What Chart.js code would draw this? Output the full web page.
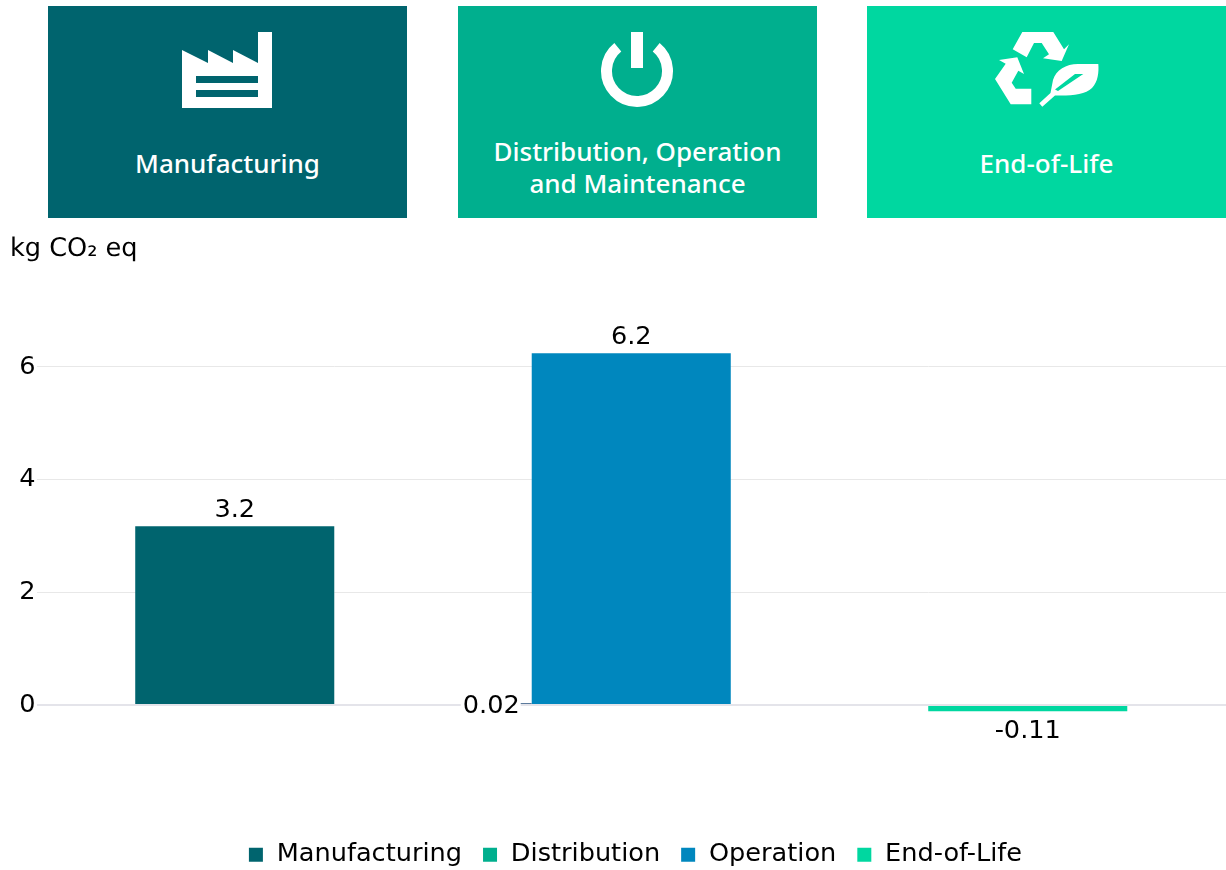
<!DOCTYPE html>
<html>
<head>
<meta charset="utf-8">
<script src="https://cdn.jsdelivr.net/npm/chart.js@4"></script>
<style>
  html, body { margin: 0; padding: 0; background: #fff; overflow: hidden; }
  #page { position: relative; width: 1226px; height: 870px; }
  canvas { position: absolute; left: 0; top: 0; }
  .tile {
    position: absolute; top: 6px; width: 359px; height: 212px; color: #fff;
    font: 500 26px "Noto Sans", sans-serif; line-height: 32px; text-align: center;
  }
  .tile span { position: absolute; left: 0; right: 0; top: 141px; }
  .tile span.two { top: 129px; }
  #icons { position: absolute; left: 0; top: 0; }
  #unit { position: absolute; left: 10px; top: 233px; font: 25.6px "DejaVu Sans", sans-serif; line-height: 30px; color: #000; text-rendering: geometricPrecision; }
</style>
</head>
<body>
<div id="page">
  <canvas id="myChart" width="1226" height="870"></canvas>
  <div class="tile" style="left:48px;background:#00646e"><span>Manufacturing</span></div>
  <div class="tile" style="left:458px;background:#00af8e"><span class="two">Distribution, Operation<br>and Maintenance</span></div>
  <div class="tile" style="left:867px;background:#00d7a0"><span>End-of-Life</span></div>
  <svg id="icons" width="1226" height="220" fill="#fff">
    <!-- fabrica -->
    <path fill-rule="evenodd" d="M182 50L208 63V50L233 63V50L258 63V32H272V108H182ZM196 76V83H258V76ZM196 90V97H258V90Z"/>
    <!-- encendido -->
    <rect x="631" y="32" width="12" height="36"/>
    <path d="M617.8 47.2A30.5 30.5 0 1 0 656.2 47.2" fill="none" stroke="#fff" stroke-width="11"/>
    <!-- reciclaje -->
    <path d="M1022.3 32H1053.3L1064 49.3L1069 44.3L1061.7 61L1043 58.3L1049 54.3L1041.7 43H1034L1026.7 57.3L1012.7 49.3Z"/>
    <path d="M999 60L1017.3 57.3L1024 74L1018.3 70.7L1011.7 82.7L1015.7 88.7H1031.3V104.3H1010.7L995 79L1005.7 63.7Z"/>
    <path fill-rule="evenodd" d="M1098.3 64H1078C1066 64 1056 70 1053 80L1050.5 93L1039.3 103.3L1042.3 106.7L1055 95.5C1070 96 1085 95 1092 88C1098 82 1099 72 1098.3 64ZM1075 74H1083.3L1058 91L1055 89.5Z"/>
  </svg>
  <div id="unit">kg CO₂ eq</div>
</div>
<script>
var categories = ['Manufacturing', 'Distribution, Operation and Maintenance', 'End-of-Life'];
var seriesNames = ['Manufacturing', 'Distribution', 'Operation', 'End-of-Life'];
var manufacturing = [3.17, null, null];
var distribution = [null, 0.02, null];
var operation = [null, 6.22, null];
var endOfLife = [null, null, -0.11];
var valueLabels = ['3.2', '0.02', '6.2', '-0.11'];
var yTicks = [0, 2, 4, 6];
var colors = ['#00646e', '#00af8e', '#0087be', '#00d7a0'];

var fontName = '"DejaVu Sans", sans-serif';

// etiquetas de valor dibujadas desde las barras
var valueLabelPlugin = {
  id: 'valueLabels',
  afterDatasetsDraw: function (chart) {
    var c = chart.ctx;
    var manu = chart.getDatasetMeta(0).data[0];
    var dist = chart.getDatasetMeta(1).data[1];
    var oper = chart.getDatasetMeta(2).data[1];
    var eol = chart.getDatasetMeta(3).data[2];
    c.save();
    c.font = '25.6px ' + fontName;
    c.fillStyle = '#000';
    c.textAlign = 'center';
    c.textBaseline = 'alphabetic';
    c.fillText(valueLabels[0], manu.x, manu.y - 9);
    c.fillText(valueLabels[2], oper.x, oper.y - 9);
    c.fillText(valueLabels[3], eol.x, eol.y + 27);

    // la etiqueta 0.02 va a la izquierda con una linea corta
    var left = dist.x - dist.width / 2;
    var w = c.measureText(valueLabels[1]).width;
    c.fillStyle = '#fff';
    c.fillRect(left - 12 - w - 2, dist.y - 8, w + 3, 16);
    c.strokeStyle = '#5c7a9c';
    c.lineWidth = 1;
    c.beginPath();
    c.moveTo(left - 11, Math.round(dist.y) - 0.5);
    c.lineTo(left, Math.round(dist.y) - 0.5);
    c.stroke();
    c.fillStyle = '#000';
    c.textAlign = 'right';
    c.fillText(valueLabels[1], left - 12, dist.y + 9);
    c.restore();
  }
};

// mover la leyenda a su sitio
var legendPlacePlugin = {
  id: 'legendPlace',
  afterLayout: function (chart) {
    chart.legend.left = 44;
    chart.legend.top = 822;
    chart.legend.bottom = 870;
  }
};

var datasets = [manufacturing, distribution, operation, endOfLife].map(function (values, i) {
  return {
    label: seriesNames[i],
    data: values,
    backgroundColor: colors[i],
    borderWidth: 0,
    barPercentage: 0.502,
    categoryPercentage: 1
  };
});

var ctx = document.getElementById('myChart').getContext('2d');
ctx.textRendering = 'geometricPrecision';
var myChart = new Chart(ctx, {
  type: 'bar',
  data: { labels: categories, datasets: datasets },
  plugins: [valueLabelPlugin, legendPlacePlugin],
  options: {
    responsive: false,
    animation: false,
    layout: { padding: { top: 310.5, bottom: 53, left: 0, right: 0 } },
    scales: {
      x: {
        stacked: true,
        display: false
      },
      y: {
        stacked: true,
        min: -1,
        max: 7,
        afterBuildTicks: function (axis) {
          axis.ticks = yTicks.map(function (v) { return { value: v }; });
        },
        afterFit: function (axis) { axis.width = 36.5; },
        border: { display: false },
        grid: {
          drawTicks: false,
          color: function (g) { return g.tick.value === 0 ? '#e4e4ea' : '#e8e8e8'; },
          lineWidth: function (g) { return g.tick.value === 0 ? 2 : 1; }
        },
        ticks: {
          padding: 1,
          color: '#000',
          font: { family: fontName, size: 25.6 }
        }
      }
    },
    plugins: {
      tooltip: { enabled: false },
      legend: {
        position: 'bottom',
        labels: {
          color: '#000',
          font: { family: fontName, size: 25.6 },
          boxWidth: 16,
          boxHeight: 16,
          padding: 20,
          generateLabels: function (chart) {
            return seriesNames.map(function (name, i) {
              return { text: name, fillStyle: colors[i], strokeStyle: '#fff', lineWidth: 2, datasetIndex: i, fontColor: '#000' };
            });
          }
        }
      }
    }
  }
});
</script>
</body>
</html>
